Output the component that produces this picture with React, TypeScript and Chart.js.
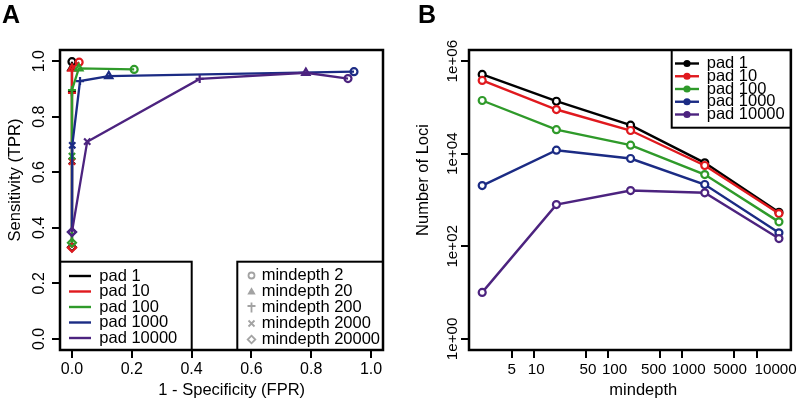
import React, { useEffect, useRef } from 'react';
import { Chart, registerables } from 'chart.js';
Chart.register(...registerables);

const FONT = '"Liberation Sans", Arial, Helvetica, sans-serif';

// ---- shared categories ----
const padLabels = ['pad 1', 'pad 10', 'pad 100', 'pad 1000', 'pad 10000'];
const padColors = ['#000000', '#e0191e', '#2f9a2a', '#1b2b84', '#4c237f'];
const mindepths = [2, 20, 200, 2000, 20000];
const mindepthLabels = ['mindepth 2', 'mindepth 20', 'mindepth 200', 'mindepth 2000', 'mindepth 20000'];
const markerStyles = ['circle', 'triangle', 'cross', 'crossRot', 'rectRot'];

// ---- panel A: FPR / TPR per pad, ordered by mindepth ----
const fprPad1 = [0.0, 0.0, 0.0, 0.0, 0.0];
const tprPad1 = [0.998, 0.976, 0.89, 0.64, 0.33];
const fprPad10 = [0.024, 0.0, 0.0, 0.0, 0.0];
const tprPad10 = [0.996, 0.973, 0.886, 0.638, 0.328];
const fprPad100 = [0.208, 0.023, 0.0, 0.0, 0.0];
const tprPad100 = [0.97, 0.974, 0.896, 0.658, 0.346];
const fprPad1000 = [0.943, 0.123, 0.027, 0.001, 0.0];
const tprPad1000 = [0.962, 0.946, 0.928, 0.697, 0.385];
const fprPad10000 = [0.923, 0.782, 0.427, 0.051, 0.0];
const tprPad10000 = [0.937, 0.958, 0.936, 0.71, 0.385];
const rocTicks = [0, 0.2, 0.4, 0.6, 0.8, 1.0];

// ---- panel B: number of loci per pad, by mindepth ----
const lociPad1 = [515000, 136000, 41300, 6350, 543];
const lociPad10 = [383000, 90000, 31700, 5560, 509];
const lociPad100 = [141000, 33000, 15300, 3550, 337];
const lociPad1000 = [2050, 11900, 7870, 2160, 195];
const lociPad10000 = [10.1, 795, 1600, 1430, 147];
const depthTicks = [5, 10, 50, 100, 500, 1000, 5000, 10000];
// labels as printed (spacing keeps neighbouring labels apart as in the figure)
const depthTickLabels = ['5', ' 10', ' 50', '   100', '500   ', '   1000', '5000  ', '         10000'];
const lociTicks = [1, 100, 10000, 1000000];
const lociTickLabels = ['1e+00', '1e+02', '1e+04', '1e+06'];

const fprSeries = [fprPad1, fprPad10, fprPad100, fprPad1000, fprPad10000];
const tprSeries = [tprPad1, tprPad10, tprPad100, tprPad1000, tprPad10000];
const lociSeries = [lociPad1, lociPad10, lociPad100, lociPad1000, lociPad10000];

function drawMarker(ctx: CanvasRenderingContext2D, style: string, x: number, y: number, color: string) {
  ctx.save();
  ctx.strokeStyle = color;
  ctx.fillStyle = color;
  ctx.lineWidth = 1.8;
  ctx.beginPath();
  if (style === 'circle') {
    ctx.arc(x, y, 3, 0, Math.PI * 2);
    ctx.stroke();
  } else if (style === 'triangle') {
    ctx.moveTo(x, y - 4.2);
    ctx.lineTo(x + 4.2, y + 3);
    ctx.lineTo(x - 4.2, y + 3);
    ctx.closePath();
    ctx.fill();
  } else if (style === 'cross') {
    ctx.moveTo(x - 4, y - 1.5);
    ctx.lineTo(x + 4, y - 1.5);
    ctx.moveTo(x, y - 5);
    ctx.lineTo(x, y + 5);
    ctx.stroke();
  } else if (style === 'crossRot') {
    ctx.moveTo(x - 3, y - 3);
    ctx.lineTo(x + 3, y + 3);
    ctx.moveTo(x + 3, y - 3);
    ctx.lineTo(x - 3, y + 3);
    ctx.stroke();
  } else {
    ctx.moveTo(x, y - 3.8);
    ctx.lineTo(x + 3.8, y);
    ctx.lineTo(x, y + 3.8);
    ctx.lineTo(x - 3.8, y);
    ctx.closePath();
    ctx.stroke();
  }
  ctx.restore();
}

type FrameCfg = {
  id: string;
  letter: string;
  letterX: number;
  xTitle: string;
  xTitleX: number;
  yTitle: string;
  yTitleX: number;
  legends: (ctx: CanvasRenderingContext2D, a: any) => void;
};

function framePlugin(cfg: FrameCfg) {
  return {
    id: cfg.id,
    beforeDraw(chart: any) {
      const ctx = chart.ctx;
      ctx.save();
      ctx.fillStyle = '#ffffff';
      ctx.fillRect(0, 0, chart.width, chart.height);
      ctx.restore();
    },
    afterDatasetsDraw(chart: any) {
      const ctx: CanvasRenderingContext2D = chart.ctx;
      const a = chart.chartArea;
      ctx.save();
      cfg.legends(ctx, a);
      ctx.strokeStyle = '#000';
      ctx.lineWidth = 2.5;
      ctx.strokeRect(a.left, a.top, a.right - a.left, a.bottom - a.top);
      ctx.fillStyle = '#000';
      ctx.font = `bold 25px ${FONT}`;
      ctx.textAlign = 'left';
      ctx.textBaseline = 'alphabetic';
      ctx.fillText(cfg.letter, cfg.letterX, 23);
      ctx.font = `16.5px ${FONT}`;
      ctx.textAlign = 'center';
      ctx.textBaseline = 'middle';
      ctx.fillText(cfg.xTitle, cfg.xTitleX, 390);
      ctx.translate(cfg.yTitleX, 180);
      ctx.rotate(-Math.PI / 2);
      ctx.fillText(cfg.yTitle, 0, 0);
      ctx.restore();
    },
  };
}

function legendBox(ctx: CanvasRenderingContext2D, l: number, t: number, r: number, b: number) {
  ctx.fillStyle = '#ffffff';
  ctx.fillRect(l, t, r - l, b - t);
  ctx.strokeStyle = '#000';
  ctx.lineWidth = 2;
  ctx.strokeRect(l, t, r - l, b - t);
}

const fontA = { family: FONT, size: 16 };
const fontB = { family: FONT, size: 15.2 };
const gridCfg = {
  display: true,
  drawOnChartArea: false,
  drawTicks: true,
  tickLength: 8,
  tickWidth: 2,
  tickColor: '#000',
  color: '#000',
  lineWidth: 2,
};

function legendsA(ctx: CanvasRenderingContext2D, a: any) {
  // left legend: pads
  legendBox(ctx, a.left, 261.7, 191.7, a.bottom);
  ctx.font = `16.5px ${FONT}`;
  ctx.textBaseline = 'middle';
  ctx.textAlign = 'left';
  padLabels.forEach((lab, i) => {
    const y = 276 + i * 15.5;
    ctx.strokeStyle = padColors[i];
    ctx.lineWidth = 2.4;
    ctx.beginPath();
    ctx.moveTo(69, y);
    ctx.lineTo(91, y);
    ctx.stroke();
    ctx.fillStyle = '#000';
    ctx.fillText(lab, 99.3, y);
  });
  // right legend: mindepth markers
  legendBox(ctx, 237.3, 261.7, a.right, a.bottom);
  mindepthLabels.forEach((lab, i) => {
    const y = 275.5 + i * 16;
    drawMarker(ctx, markerStyles[i], 251.5, y, '#a3a3a3');
    ctx.fillStyle = '#000';
    ctx.font = `16.5px ${FONT}`;
    ctx.textBaseline = 'middle';
    ctx.textAlign = 'left';
    ctx.fillText(lab, 261.7, y);
  });
}

function legendsB(ctx: CanvasRenderingContext2D, a: any) {
  legendBox(ctx, 271.7, a.top, a.right, 127.7);
  ctx.font = `16.5px ${FONT}`;
  ctx.textBaseline = 'middle';
  ctx.textAlign = 'left';
  padLabels.forEach((lab, i) => {
    const y = 63.5 + i * 12.75;
    ctx.strokeStyle = padColors[i];
    ctx.fillStyle = padColors[i];
    ctx.lineWidth = 2.4;
    ctx.beginPath();
    ctx.moveTo(275, y);
    ctx.lineTo(299, y);
    ctx.stroke();
    ctx.beginPath();
    ctx.arc(287, y, 3.6, 0, Math.PI * 2);
    ctx.fill();
    ctx.fillStyle = '#000';
    ctx.fillText(lab, 306.7, y);
  });
}

function PanelA() {
  const ref = useRef<HTMLCanvasElement>(null);
  useEffect(() => {
    const datasets = padLabels.map((lab, i) => ({
      label: lab,
      data: fprSeries[i].map((x, j) => ({ x, y: tprSeries[i][j] })),
      showLine: true,
      borderColor: padColors[i],
      borderWidth: 2.3,
      pointStyle: markerStyles,
      pointRadius: [3.5, 4.2, 4, 4.4, 4],
      pointBorderColor: padColors[i],
      pointBackgroundColor: 'rgba(0,0,0,0)',
      pointBorderWidth: 2.2,
      order: 5 - i,
    }));
    const chart = new Chart(ref.current as HTMLCanvasElement, {
      type: 'scatter',
      data: { datasets },
      options: {
        responsive: false,
        animation: false,
        devicePixelRatio: 1,
        layout: { padding: { left: 0, top: 50, right: 17, bottom: 0 } },
        plugins: { legend: { display: false }, tooltip: { enabled: false } },
        scales: {
          x: {
            type: 'linear',
            min: -0.04,
            max: 1.04,
            afterBuildTicks: (s: any) => { s.ticks = rocTicks.map((v) => ({ value: v })); },
            afterFit: (s: any) => { s.height = 55; },
            ticks: { autoSkip: false, maxRotation: 0, minRotation: 0, padding: 2, color: '#000', font: fontA, callback: (v: any) => Number(v).toFixed(1) },
            grid: gridCfg,
            border: { display: false },
          },
          y: {
            type: 'linear',
            min: -0.04,
            max: 1.04,
            afterBuildTicks: (s: any) => { s.ticks = rocTicks.map((v) => ({ value: v })); },
            afterFit: (s: any) => { s.width = 60; },
            ticks: { autoSkip: false, minRotation: 90, maxRotation: 90, crossAlign: 'center', padding: 1.5, color: '#000', font: fontA, callback: (v: any) => Number(v).toFixed(1) },
            grid: gridCfg,
            border: { display: false },
          },
        },
      } as any,
      plugins: [framePlugin({
        id: 'frameA', letter: 'A', letterX: 2,
        xTitle: '1 - Specificity (FPR)', xTitleX: 231.7,
        yTitle: 'Sensitivity (TPR)', yTitleX: 15,
        legends: legendsA,
      })],
    });
    return () => chart.destroy();
  }, []);
  return <canvas ref={ref} width={400} height={405} style={{ width: 400, height: 405, display: 'block' }} />;
}

function PanelB() {
  const ref = useRef<HTMLCanvasElement>(null);
  useEffect(() => {
    const datasets = padLabels.map((lab, i) => ({
      label: lab,
      data: mindepths.map((x, j) => ({ x, y: lociSeries[i][j] })),
      showLine: true,
      borderColor: padColors[i],
      borderWidth: 2.4,
      pointStyle: 'circle',
      pointRadius: 3.5,
      pointBorderColor: padColors[i],
      pointBackgroundColor: '#ffffff',
      pointBorderWidth: 2.2,
      order: 5 - i,
    }));
    const chart = new Chart(ref.current as HTMLCanvasElement, {
      type: 'scatter',
      data: { datasets },
      options: {
        responsive: false,
        animation: false,
        devicePixelRatio: 1,
        layout: { padding: { left: 0, top: 50, right: 7.3, bottom: 0 } },
        plugins: { legend: { display: false }, tooltip: { enabled: false } },
        scales: {
          x: {
            type: 'logarithmic',
            min: Math.pow(10, 0.123),
            max: Math.pow(10, 4.462),
            afterBuildTicks: (s: any) => { s.ticks = depthTicks.map((v) => ({ value: v })); },
            afterFit: (s: any) => { s.height = 55; },
            ticks: {
              autoSkip: false, maxRotation: 0, minRotation: 0, padding: 2.5, color: '#000', font: fontB,
              callback: (v: any) => depthTickLabels[depthTicks.indexOf(Number(v))] ?? '',
            },
            grid: gridCfg,
            border: { display: false },
          },
          y: {
            type: 'logarithmic',
            min: Math.pow(10, -0.24),
            max: Math.pow(10, 6.24),
            afterBuildTicks: (s: any) => { s.ticks = lociTicks.map((v) => ({ value: v })); },
            afterFit: (s: any) => { s.width = 69; },
            ticks: {
              autoSkip: false, minRotation: 90, maxRotation: 90, crossAlign: 'center', padding: -13.4, color: '#000', font: fontB,
              callback: (v: any) => lociTickLabels[lociTicks.indexOf(Number(v))] ?? '',
            },
            grid: gridCfg,
            border: { display: false },
          },
        },
      } as any,
      plugins: [framePlugin({
        id: 'frameB', letter: 'B', letterX: 18,
        xTitle: 'mindepth', xTitleX: 243.3,
        yTitle: 'Number of Loci', yTitleX: 23,
        legends: legendsB,
      })],
    });
    return () => chart.destroy();
  }, []);
  return <canvas ref={ref} width={400} height={405} style={{ width: 400, height: 405, display: 'block' }} />;
}

export default function App() {
  useEffect(() => {
    document.body.style.margin = '0';
  }, []);
  return (
    <div style={{ position: 'fixed', left: 0, top: 0, width: 800, height: 405, background: '#fff' }}>
      <div style={{ position: 'absolute', left: 0, top: 0 }}><PanelA /></div>
      <div style={{ position: 'absolute', left: 400, top: 0 }}><PanelB /></div>
    </div>
  );
}
